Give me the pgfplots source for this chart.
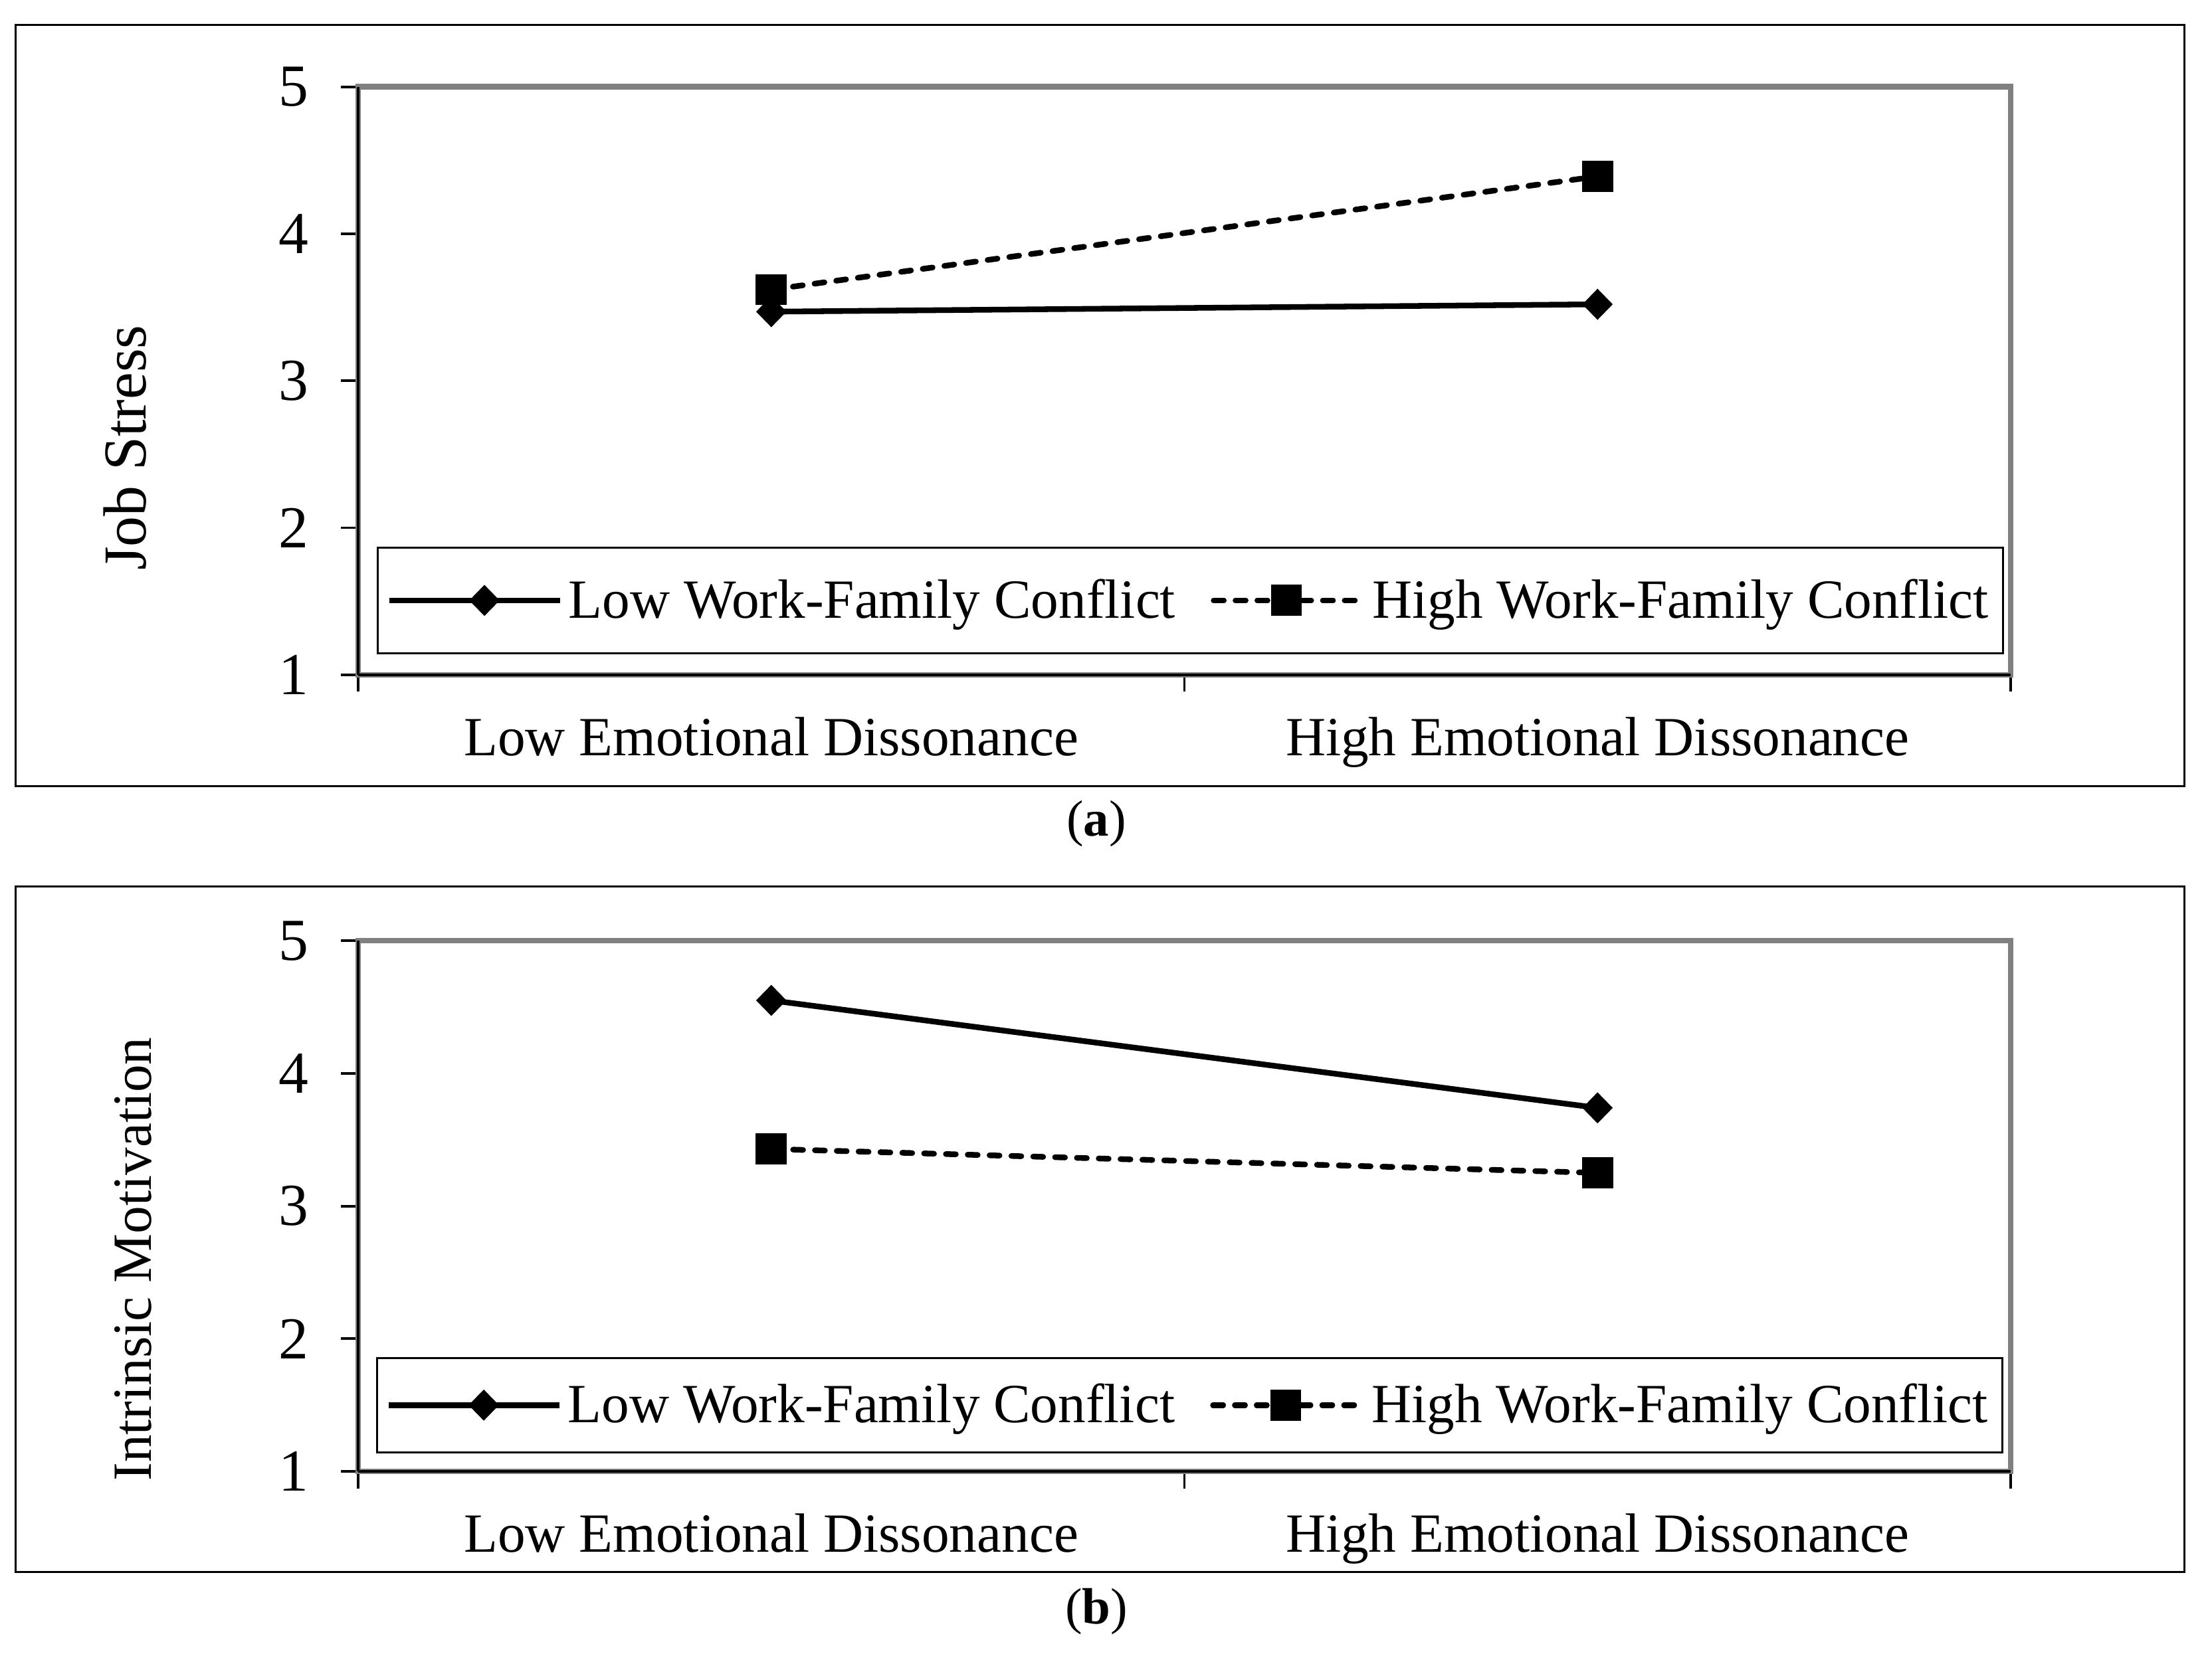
\documentclass[border=0pt]{standalone}
\usepackage{fontspec}
\setmainfont{Liberation Serif}
\usepackage{pgfplots}
\pgfplotsset{compat=1.18}
\newcommand{\fs}{\fontsize{19.5pt}{23pt}\selectfont}
\newcommand{\fst}{\fontsize{21pt}{24pt}\selectfont}
\pgfplotsset{
  myaxis/.style={
    scale only axis,
    width=582.7pt,
    xmin=0, xmax=2, ymin=1, ymax=5,
    ytick={1,2,3,4,5},
    xtick={0,1,2},
    xticklabels={,,},
    extra x ticks={0.5,1.5},
    extra x tick labels={Low Emotional Dissonance, High Emotional Dissonance},
    extra x tick style={major tick length=0pt, xticklabel style={yshift=-11.5pt, font=\fs}},
    tick align=outside,
    xtick pos=bottom, ytick pos=left,
    major tick length=6pt,
    tick style={black, line width=0.9pt},
    axis line style={draw=gray, line width=2pt},
    yticklabel style={font=\fst, xshift=-8pt},
    /pgf/number format/assume math mode=true,
    label style={font=\fs},
    legend columns=2,
    legend style={draw=black, line width=0.8pt, anchor=south west, font=\fs,
      inner xsep=3pt, inner ysep=7pt,
      /tikz/every even column/.append style={column sep=10.5pt}},
    legend image code/.code={\path (0pt,0pt) -- (53pt,0pt); \draw[mark repeat=2,mark phase=2,##1] plot coordinates {(0pt,0pt) (25.6pt,0pt) (51.3pt,0pt)};},
    clip=false,
  },
  lowwfc/.style={black, line width=2pt, mark=diamond*, mark size=5.2pt, mark options={solid, xscale=1.3, line width=0.4pt},
    legend image code/.code={\path (0pt,0pt) -- (60.3pt,0pt); \draw[mark repeat=2,mark phase=2,##1] plot coordinates {(8pt,0pt) (33.6pt,0pt) (59.3pt,0pt)};}},
  highwfc/.style={black, line width=2pt, dash pattern=on 3.5pt off 4.2pt, line cap=round, mark=square*, mark size=5.3pt, mark options={solid, line width=0.4pt}},
}
\begin{document}
\begin{tikzpicture}
\path[use as bounding box] (0pt,0pt) rectangle (780pt,-586pt);
\draw[line width=0.7pt] (5.6pt,-8.7pt) rectangle (770.2pt,-277.4pt);
\draw[line width=0.7pt] (5.6pt,-312.6pt) rectangle (770.2pt,-554.4pt);
\node[font=\fontsize{18pt}{21pt}\selectfont] at (386.6pt,-290.5pt) {(\textbf{a})};
\node[font=\fontsize{18pt}{21pt}\selectfont] at (386.6pt,-568.4pt) {(\textbf{b})};
% panel (a)
\begin{axis}[myaxis, height=207.4pt, at={(126.3pt,-238.0pt)}, anchor=south west,
  ylabel={Job Stress},
  ylabel style={at={(axis description cs:-0.1412,0.386)}, anchor=center, font=\fontsize{21.5pt}{25pt}\selectfont},
  legend style={at={(0.0112,0.0347)}, inner ysep=9pt}]
\addplot[lowwfc] coordinates {(0.5,3.47) (1.5,3.52)};
\addlegendentry{Low Work-Family Conflict}
\addplot[highwfc] coordinates {(0.5,3.62) (1.5,4.39)};
\addlegendentry{High Work-Family Conflict}
\draw[black, line width=1pt] (rel axis cs:0,0) -- (rel axis cs:0,1);
\draw[black, line width=1pt] (rel axis cs:0,0) -- (rel axis cs:1,0);
\end{axis}
% panel (b)
\begin{axis}[myaxis, height=187.2pt, at={(126.3pt,-519.0pt)}, anchor=south west,
  ylabel={Intrinsic Motivation},
  ylabel style={at={(axis description cs:-0.136,0.40)}, anchor=center},
  legend style={at={(0.0108,0.034)}}]
\addplot[lowwfc] coordinates {(0.5,4.55) (1.5,3.74)};
\addlegendentry{Low Work-Family Conflict}
\addplot[highwfc] coordinates {(0.5,3.43) (1.5,3.25)};
\addlegendentry{High Work-Family Conflict}
\draw[black, line width=1pt] (rel axis cs:0,0) -- (rel axis cs:0,1);
\draw[black, line width=1pt] (rel axis cs:0,0) -- (rel axis cs:1,0);
\end{axis}
\end{tikzpicture}
\end{document}
